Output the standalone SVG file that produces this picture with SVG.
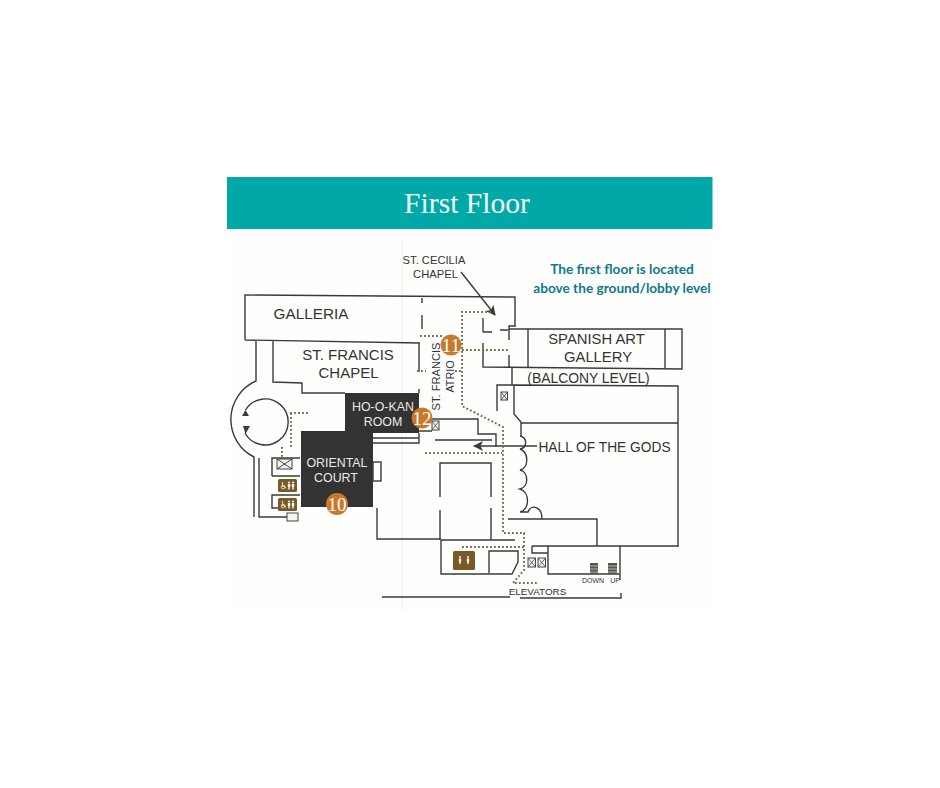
<svg xmlns="http://www.w3.org/2000/svg" width="940" height="788" viewBox="0 0 940 788">
<style>
.w{fill:none;stroke:#3a3a3a;stroke-width:1.4}
.d{fill:none;stroke:#6f6c52;stroke-width:2;stroke-dasharray:1.8 2.2}
.t{font-family:"Liberation Sans",Arial,sans-serif;fill:#333;text-anchor:middle}
.tw{font-family:"Liberation Sans",Arial,sans-serif;fill:#e8e8e8;text-anchor:middle;font-size:12.4px}
.n{font-family:"Liberation Serif","Times New Roman",serif;fill:#fff;text-anchor:middle;font-size:19px}
.badge{fill:#c77a2b}
.rr{fill:#7a5a24}
.x{fill:#f4f4f2;stroke:#444;stroke-width:1}
.b{fill:#333}
.note{font-family:Lato,"Liberation Sans",sans-serif;font-weight:700;font-size:13.65px;fill:#0f7a8c;text-anchor:middle}
</style>
<defs>
<marker id="ah2" viewBox="0 0 10 10" refX="9" refY="5" markerWidth="12" markerHeight="10" markerUnits="userSpaceOnUse" orient="auto"><path d="M0,0L10,5L0,10L2.5,5Z" fill="#3a3a3a"/></marker>
<g id="person"><circle cx="0" cy="-3" r="1" fill="#fff"/><path d="M-1.200,-1.500H1.200V1.500H0.700V4H-0.700V1.500H-1.200Z" fill="#fff"/></g>
<g id="wheel"><circle cx="0" cy="1" r="1.800" fill="none" stroke="#fff" stroke-width=".7"/><circle cx="-0.500" cy="-3" r=".8" fill="#fff"/><path d="M-0.500,-2V0.500H2L3,2.500" fill="none" stroke="#fff" stroke-width=".7"/></g>
</defs>
<rect width="940" height="788" fill="#fff"/>
<g id="title">
<rect x="227" y="177" width="485.500" height="52" fill="#00a9a7"/>
<text x="467" y="213" font-family="Liberation Serif,Times New Roman,serif" font-size="29.600" fill="#f4fbfb" text-anchor="middle">First Floor</text>
</g>
<g id="plan">
<rect x="228" y="229" width="484" height="381" fill="#fefefc"/>
<path d="M402,240V610" stroke="#eeeeec" stroke-width="1" fill="none"/>
<rect class="b" x="345" y="393" width="74" height="40"/>
<rect class="b" x="301" y="431" width="72" height="76"/>
<path class="w" d="M256,341V381A42,42 0 0 0 254,457V517M259,458V517H287M245,340V295L515,297V327M245,340L420,343M273,341V382L302,383V393H345"/>
<path class="w" d="M422,298V303M422,315V329M419,343V372M419,389V393"/>
<path class="w" d="M245.500,410A23,23 0 1 1 245,433"/>
<path d="M245.500,410L242,416H249ZM243,426H250L245.500,434Z" fill="#3a3a3a"/>
<path class="w" d="M272,476V458H300M272,476H300M300,495H272V508H280"/>
<rect class="x" x="287" y="513" width="11" height="8" fill="#fff"/>
<rect class="x" x="277" y="459" width="15" height="10"/><path d="M277,459L292,469M292,459L277,469" stroke="#444" fill="none"/>
<path class="w" d="M373,438H419M373,443H419V433M418,431H432"/>
<rect x="373" y="462" width="8" height="19" fill="#fff" stroke="#3a3a3a" stroke-width="1.400"/>
<path class="w" d="M377,508V539H441M441,540V574H512L518,562V551H489V573M441,540H515"/>
<path class="w" d="M440,540V510M440,497V463H491V497M491,508V540"/>
<path class="w" d="M432,419H478V434H496V447M435,440H492"/>
<path class="w" d="M483,318V332M483,332H492M500,330H508M515,326H509V340M509,355V367M483,343V367L682,369V329H509M528,329V368M665,329V368"/>
<path class="w" d="M512,368V385M514,385H497V411M514,385L678,386V547M514,385V414L521,422V436M521,423H678"/>
<path class="w" d="M520,436C528,438 527,448 520,449C529,452 529,468 520,470C529,472 529,487 520,489C530,492 530,510 520,512H528C531,504 542,506 542,519M508,519H597V546M532,546H678M532,546V553H548M548,546V574H620M620,546V580"/>
<path class="w" d="M382,597H510M520,598H621V593"/>
<path class="w" d="M537,446H474" marker-end="url(#ah2)"/>
<path class="w" d="M461,272L495,315" marker-end="url(#ah2)"/>
<g id="dots">
<path class="d" d="M491,312H462V406L503,427V533H524V570L513,583H537"/>
<path class="d" d="M462,547H524M425,453H502M462,350H510M420,336H442M417,371H426M455,371H463"/>
<path class="d" d="M290,413H308M291,413V447M282,447V457"/>
</g>
<g id="boxes">
<rect class="x" x="501" y="392" width="6.500" height="8"/><path d="M501,392L507.500,400M507.500,392L501,400" stroke="#444" fill="none" stroke-width=".8"/>
<rect class="x" x="432" y="421" width="7" height="9"/><path d="M432,421L439,430M439,421L432,430" stroke="#444" fill="none" stroke-width=".8"/>
<rect class="x" x="528" y="558" width="7.500" height="9"/><path d="M528,558L535.500,567M535.500,558L528,567" stroke="#444" fill="none" stroke-width=".8"/>
<rect class="x" x="538" y="558" width="7.500" height="9"/><path d="M538,558L545.500,567M545.500,558L538,567" stroke="#444" fill="none" stroke-width=".8"/>
<rect x="590" y="563" width="8" height="11" fill="#55554f"/><path d="M590,566H598M590,569H598M590,572H598" stroke="#ddd" stroke-width=".7"/>
<rect x="608" y="563" width="9" height="11" fill="#55554f"/><path d="M608,566H617M608,569H617M608,572H617" stroke="#ddd" stroke-width=".7"/>
</g>
<g id="restrooms">
<rect class="rr" x="278" y="479" width="19" height="13" rx="1.500"/>
<use href="#wheel" x="283" y="486"/><use href="#person" x="289" y="485.500"/><use href="#person" x="293" y="485.500"/>
<rect class="rr" x="278" y="498" width="19" height="13" rx="1.500"/>
<use href="#wheel" x="283" y="505"/><use href="#person" x="289" y="504.500"/><use href="#person" x="293" y="504.500"/>
<rect class="rr" x="453" y="551" width="22" height="19" rx="1.500"/>
<use href="#person" x="460" y="560"/><use href="#person" x="468" y="560"/>
</g>
<g id="labels">
<text class="t" font-size="15.300" x="311" y="319">GALLERIA</text>
<text class="t" font-size="15" x="348" y="360">ST. FRANCIS</text>
<text class="t" font-size="15" x="348.500" y="378">CHAPEL</text>
<text class="tw" x="383" y="411">HO-O-KAN</text>
<text class="tw" x="383" y="426">ROOM</text>
<text class="tw" x="337" y="467">ORIENTAL</text>
<text class="tw" x="336" y="482">COURT</text>
<text class="t" font-size="11.200" x="434" y="264">ST. CECILIA</text>
<text class="t" font-size="11.200" x="435.500" y="278">CHAPEL</text>
<text class="t" font-size="11.100" transform="translate(440,376.500) rotate(-90)">ST. FRANCIS</text>
<text class="t" font-size="10.800" transform="translate(454,376.500) rotate(-90)">ATRIO</text>
<text class="t" font-size="14.800" x="596.500" y="344">SPANISH ART</text>
<text class="t" font-size="14.800" x="598" y="362">GALLERY</text>
<text class="t" font-size="13.900" x="588.500" y="383">(BALCONY LEVEL)</text>
<text class="t" font-size="13.750" x="604.500" y="452">HALL OF THE GODS</text>
<text class="t" font-size="9.900" x="537.500" y="595">ELEVATORS</text>
<text class="t" font-size="7" x="593" y="583">DOWN</text>
<text class="t" font-size="7" x="615" y="583">UP</text>
</g>
<g id="stop-11"><circle class="badge" cx="451" cy="345" r="10.500"/><text class="n" x="451" y="351.500">11</text></g>
<g id="stop-12"><circle class="badge" cx="422" cy="418" r="10.500"/><text class="n" x="422" y="424.500">12</text></g>
<g id="stop-10"><circle class="badge" cx="337" cy="504" r="11"/><text class="n" x="337" y="510.500">10</text></g>
</g>
<g id="note">
<text class="note" x="622" y="274">The first floor is located</text>
<text class="note" x="622" y="293">above the ground/lobby level</text>
</g>
</svg>
